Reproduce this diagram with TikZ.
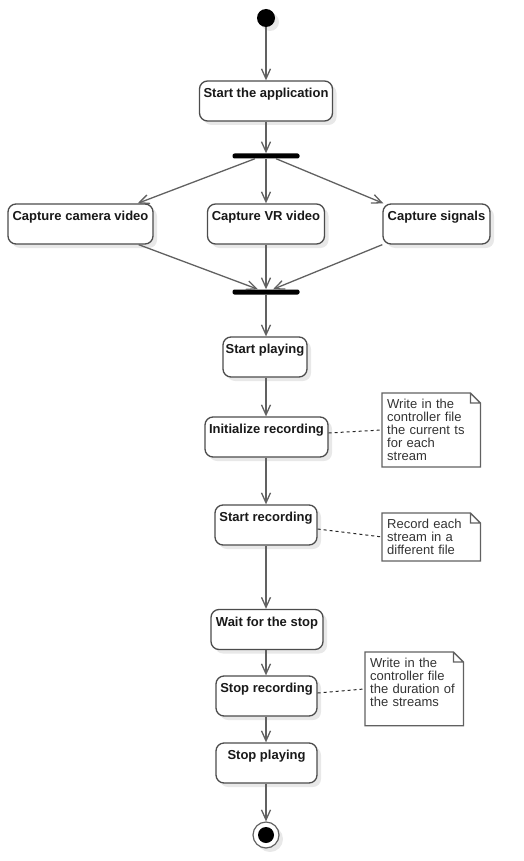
\documentclass[tikz,border=0pt]{standalone}
\usepackage{fontspec}
\setmainfont{Liberation Sans}
\usetikzlibrary{arrows.meta,shadows}
\begin{document}
\begin{tikzpicture}[x=1pt,y=-1pt,
  >={Straight Barb[length=10pt,width=9pt]},
  softshadow/.style={drop shadow={shadow xshift=4pt,shadow yshift=-4pt,fill=black!9,opacity=1}},
  flow/.style={draw=black!62,line width=1.3pt,->},
  act/.style={draw=black!70,line width=1.3pt,fill=white,rounded corners=8pt,softshadow,
    font=\fontsize{13}{13}\selectfont\bfseries,text=black!90,
    text height=9.5pt,text depth=16.5pt,inner ysep=7pt,inner xsep=0pt},
  bar/.style={fill=black,rounded corners=2pt,minimum width=67pt,minimum height=5pt,inner sep=0pt},
  note/.style={anchor=north west,text width=88pt,align=left,inner xsep=5pt,inner ysep=6pt,
    font=\fontsize{13}{13}\selectfont,text=black!80},
  noteline/.style={draw=black!62,line width=1.3pt},
  link/.style={draw=black!85,line width=1pt,dash pattern=on 3pt off 3pt}]
\useasboundingbox (0,0) rectangle (523,861);
\node[circle,fill=black,minimum size=18pt,inner sep=0pt,softshadow] (start) at (266,18) {};
\node[act,minimum width=133pt] (app) at (266,101) {Start the application};
\node[bar] (fork) at (266,156) {};
\node[act,minimum width=145pt] (cam) at (80.5,224) {Capture camera video};
\node[act,minimum width=117pt] (vr) at (266,224) {Capture VR video};
\node[act,minimum width=107pt] (sig) at (436.5,224) {Capture signals};
\node[bar] (join) at (266,292) {};
\node[act,minimum width=84pt] (play) at (265,357) {Start playing};
\node[act,minimum width=123pt] (initrec) at (266.5,437) {Initialize recording};
\node[act,minimum width=102pt] (startrec) at (266,525) {Start recording};
\node[act,minimum width=112pt] (wait) at (267,629.5) {Wait for the stop};
\node[act,minimum width=101pt] (stoprec) at (266.5,696) {Stop recording};
\node[act,minimum width=101pt] (stopplay) at (266.5,763) {Stop playing};
\node[circle,draw=black!62,line width=1.2pt,fill=white,minimum size=26pt,inner sep=0pt,softshadow,
  path picture={\fill[black] (path picture bounding box.center) circle (8pt);}] (final) at (266,835) {};
\node[note] (note1) at (382,393) {Write in the\\controller file\\the current ts\\for each\\stream};
\node[note] (note2) at (382,513) {Record each\\stream in a\\different file};
\node[note] (note3) at (365,652) {Write in the\\controller file\\the duration of\\the streams\\\mbox{}};
\foreach \n in {note1,note2,note3}
  \draw[noteline] (\n.north west) -- ([xshift=-10pt]\n.north east) -- ([yshift=-10pt]\n.north east)
    -- (\n.south east) -- (\n.south west) -- cycle
    ([xshift=-10pt]\n.north east) |- ([yshift=-10pt]\n.north east);
\draw[flow] (start) -- (app);
\draw[flow] (app) -- (fork);
\draw[flow] ([xshift=-11pt]fork.south) -- ([xshift=-16pt]cam.north east);
\draw[flow] (fork.south) -- (vr.north);
\draw[flow] ([xshift=10pt]fork.south) -- ([xshift=1pt]sig.north west);
\draw[flow] ([xshift=-15pt]cam.south east) -- ([xshift=-8pt]join.north);
\draw[flow] (vr.south) -- (join.north);
\draw[flow] (sig.south west) -- ([xshift=7pt]join.north);
\draw[flow] (join.south) -- (join.south |- play.north);
\draw[flow] (join.south |- play.south) -- (join.south |- initrec.north);
\draw[flow] (join.south |- initrec.south) -- (join.south |- startrec.north);
\draw[flow] (join.south |- startrec.south) -- (join.south |- wait.north);
\draw[flow] (join.south |- wait.south) -- (join.south |- stoprec.north);
\draw[flow] (join.south |- stoprec.south) -- (join.south |- stopplay.north);
\draw[flow] (join.south |- stopplay.south) -- (final);
\draw[link] ([yshift=4pt]initrec.east) -- (note1.west);
\draw[link] ([yshift=-4pt]startrec.east) -- (note2.west);
\draw[link] ([yshift=3pt]stoprec.east) -- (note3.west);
\end{tikzpicture}
\end{document}
